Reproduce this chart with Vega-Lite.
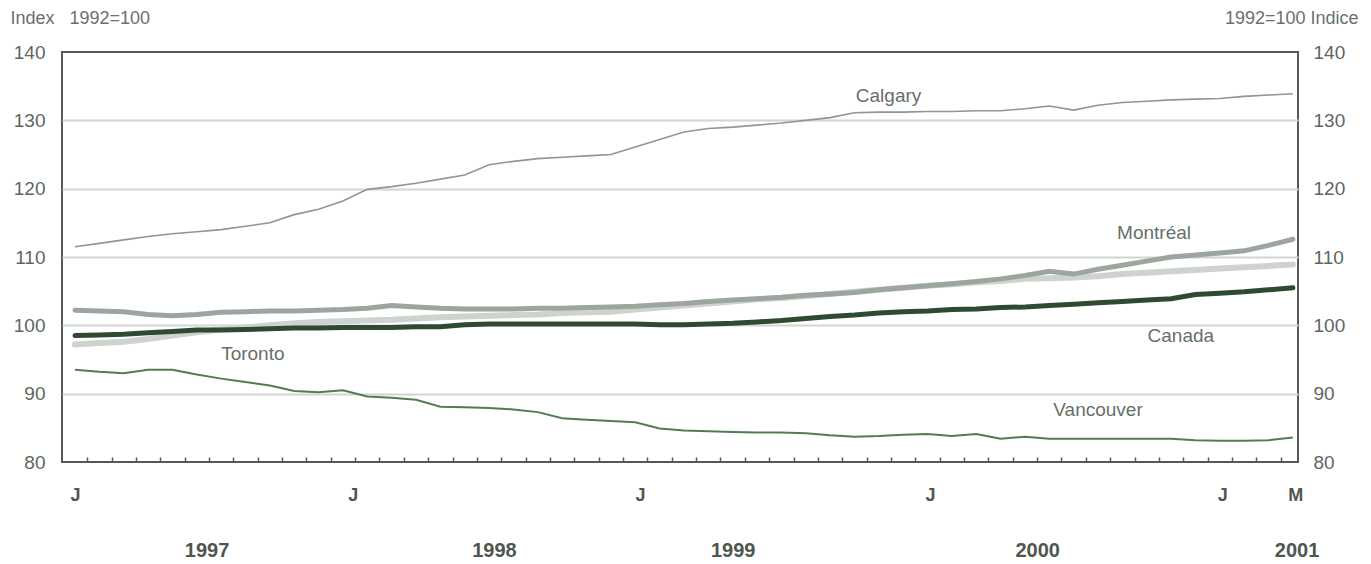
{
  "$schema": "https://vega.github.io/schema/vega-lite/v6.json",
  "width": 1236,
  "height": 410,
  "autosize": {"type": "none"},
  "padding": {"left": 62, "top": 52, "right": 73, "bottom": 102},
  "background": "white",
  "config": {
    "view": {"stroke": "#4f5c4f", "strokeWidth": 2},
    "font": "Liberation Sans",
    "axis": {"labelFont": "Liberation Sans", "titleFont": "Liberation Sans"}
  },
  "datasets": {
    "series": [
      {"m": 0, "Canada": 98.5, "Montreal": 102.2, "Toronto": 97.2, "Calgary": 111.5, "Vancouver": 93.5},
      {"m": 1, "Canada": 98.6, "Montreal": 102.1, "Toronto": 97.4, "Calgary": 112.0, "Vancouver": 93.2},
      {"m": 2, "Canada": 98.7, "Montreal": 102.0, "Toronto": 97.6, "Calgary": 112.5, "Vancouver": 93.0},
      {"m": 3, "Canada": 98.9, "Montreal": 101.6, "Toronto": 98.0, "Calgary": 113.0, "Vancouver": 93.5},
      {"m": 4, "Canada": 99.1, "Montreal": 101.4, "Toronto": 98.5, "Calgary": 113.4, "Vancouver": 93.5},
      {"m": 5, "Canada": 99.3, "Montreal": 101.6, "Toronto": 99.0, "Calgary": 113.7, "Vancouver": 92.8},
      {"m": 6, "Canada": 99.3, "Montreal": 101.9, "Toronto": 99.4, "Calgary": 114.0, "Vancouver": 92.2},
      {"m": 7, "Canada": 99.4, "Montreal": 102.0, "Toronto": 99.7, "Calgary": 114.5, "Vancouver": 91.7},
      {"m": 8, "Canada": 99.5, "Montreal": 102.1, "Toronto": 100.0, "Calgary": 115.0, "Vancouver": 91.2},
      {"m": 9, "Canada": 99.6, "Montreal": 102.1, "Toronto": 100.3, "Calgary": 116.2, "Vancouver": 90.4},
      {"m": 10, "Canada": 99.6, "Montreal": 102.2, "Toronto": 100.5, "Calgary": 117.0, "Vancouver": 90.2},
      {"m": 11, "Canada": 99.7, "Montreal": 102.3, "Toronto": 100.6, "Calgary": 118.2, "Vancouver": 90.5},
      {"m": 12, "Canada": 99.7, "Montreal": 102.5, "Toronto": 100.7, "Calgary": 119.9, "Vancouver": 89.6},
      {"m": 13, "Canada": 99.7, "Montreal": 102.9, "Toronto": 100.8, "Calgary": 120.3, "Vancouver": 89.4},
      {"m": 14, "Canada": 99.8, "Montreal": 102.7, "Toronto": 101.0, "Calgary": 120.8, "Vancouver": 89.1},
      {"m": 15, "Canada": 99.8, "Montreal": 102.5, "Toronto": 101.2, "Calgary": 121.4, "Vancouver": 88.1},
      {"m": 16, "Canada": 100.1, "Montreal": 102.4, "Toronto": 101.3, "Calgary": 122.0, "Vancouver": 88.0},
      {"m": 17, "Canada": 100.2, "Montreal": 102.4, "Toronto": 101.4, "Calgary": 123.5, "Vancouver": 87.9},
      {"m": 18, "Canada": 100.2, "Montreal": 102.4, "Toronto": 101.5, "Calgary": 124.0, "Vancouver": 87.7},
      {"m": 19, "Canada": 100.2, "Montreal": 102.5, "Toronto": 101.6, "Calgary": 124.4, "Vancouver": 87.3},
      {"m": 20, "Canada": 100.2, "Montreal": 102.5, "Toronto": 101.8, "Calgary": 124.6, "Vancouver": 86.4},
      {"m": 21, "Canada": 100.2, "Montreal": 102.6, "Toronto": 101.9, "Calgary": 124.8, "Vancouver": 86.2},
      {"m": 22, "Canada": 100.2, "Montreal": 102.7, "Toronto": 102.0, "Calgary": 125.0, "Vancouver": 86.0},
      {"m": 23, "Canada": 100.2, "Montreal": 102.8, "Toronto": 102.3, "Calgary": 126.1, "Vancouver": 85.8},
      {"m": 24, "Canada": 100.1, "Montreal": 103.0, "Toronto": 102.6, "Calgary": 127.2, "Vancouver": 84.9},
      {"m": 25, "Canada": 100.1, "Montreal": 103.2, "Toronto": 102.9, "Calgary": 128.3, "Vancouver": 84.6},
      {"m": 26, "Canada": 100.2, "Montreal": 103.5, "Toronto": 103.2, "Calgary": 128.8, "Vancouver": 84.5},
      {"m": 27, "Canada": 100.3, "Montreal": 103.7, "Toronto": 103.5, "Calgary": 129.0, "Vancouver": 84.4},
      {"m": 28, "Canada": 100.5, "Montreal": 103.9, "Toronto": 103.8, "Calgary": 129.3, "Vancouver": 84.3},
      {"m": 29, "Canada": 100.7, "Montreal": 104.1, "Toronto": 104.0, "Calgary": 129.6, "Vancouver": 84.3},
      {"m": 30, "Canada": 101.0, "Montreal": 104.4, "Toronto": 104.3, "Calgary": 130.0, "Vancouver": 84.2},
      {"m": 31, "Canada": 101.3, "Montreal": 104.6, "Toronto": 104.6, "Calgary": 130.4, "Vancouver": 83.9},
      {"m": 32, "Canada": 101.5, "Montreal": 104.8, "Toronto": 104.9, "Calgary": 131.1, "Vancouver": 83.7},
      {"m": 33, "Canada": 101.8, "Montreal": 105.2, "Toronto": 105.2, "Calgary": 131.2, "Vancouver": 83.8},
      {"m": 34, "Canada": 102.0, "Montreal": 105.5, "Toronto": 105.5, "Calgary": 131.2, "Vancouver": 84.0},
      {"m": 35, "Canada": 102.1, "Montreal": 105.8, "Toronto": 105.8, "Calgary": 131.3, "Vancouver": 84.1},
      {"m": 36, "Canada": 102.3, "Montreal": 106.1, "Toronto": 106.0, "Calgary": 131.3, "Vancouver": 83.8},
      {"m": 37, "Canada": 102.4, "Montreal": 106.4, "Toronto": 106.3, "Calgary": 131.4, "Vancouver": 84.1},
      {"m": 38, "Canada": 102.6, "Montreal": 106.8, "Toronto": 106.5, "Calgary": 131.4, "Vancouver": 83.4},
      {"m": 39, "Canada": 102.7, "Montreal": 107.3, "Toronto": 106.8, "Calgary": 131.7, "Vancouver": 83.7},
      {"m": 40, "Canada": 102.9, "Montreal": 107.9, "Toronto": 106.9, "Calgary": 132.1, "Vancouver": 83.4},
      {"m": 41, "Canada": 103.1, "Montreal": 107.5, "Toronto": 107.0, "Calgary": 131.5, "Vancouver": 83.4},
      {"m": 42, "Canada": 103.3, "Montreal": 108.2, "Toronto": 107.2, "Calgary": 132.2, "Vancouver": 83.4},
      {"m": 43, "Canada": 103.5, "Montreal": 108.8, "Toronto": 107.5, "Calgary": 132.6, "Vancouver": 83.4},
      {"m": 44, "Canada": 103.7, "Montreal": 109.4, "Toronto": 107.7, "Calgary": 132.8, "Vancouver": 83.4},
      {"m": 45, "Canada": 103.9, "Montreal": 110.0, "Toronto": 107.9, "Calgary": 133.0, "Vancouver": 83.4},
      {"m": 46, "Canada": 104.5, "Montreal": 110.3, "Toronto": 108.1, "Calgary": 133.1, "Vancouver": 83.2},
      {"m": 47, "Canada": 104.7, "Montreal": 110.6, "Toronto": 108.3, "Calgary": 133.2, "Vancouver": 83.1},
      {"m": 48, "Canada": 104.9, "Montreal": 110.9, "Toronto": 108.5, "Calgary": 133.5, "Vancouver": 83.1},
      {"m": 49, "Canada": 105.2, "Montreal": 111.7, "Toronto": 108.7, "Calgary": 133.7, "Vancouver": 83.2},
      {"m": 50, "Canada": 105.5, "Montreal": 112.6, "Toronto": 108.9, "Calgary": 133.9, "Vancouver": 83.6}
    ],
    "labels": [
      {"m": 33.4, "v": 133.6, "label": "Calgary"},
      {"m": 44.3, "v": 113.5, "label": "Montréal"},
      {"m": 45.4, "v": 98.4, "label": "Canada"},
      {"m": 7.3, "v": 95.8, "label": "Toronto"},
      {"m": 42.0, "v": 87.6, "label": "Vancouver"}
    ]
  },
  "data": {"name": "series"},
  "transform": [
    {"fold": ["Canada", "Montreal", "Toronto", "Calgary", "Vancouver"], "as": ["city", "v"]}
  ],
  "layer": [
    {
      "transform": [{"filter": "datum.city === 'Toronto'"}],
      "mark": {"type": "line", "color": "#cfd3cf", "strokeWidth": 6, "strokeCap": "round"},
      "encoding": {
        "x": {
          "field": "m", "type": "quantitative",
          "scale": {"domain": [-0.534, 50.21], "nice": false, "zero": false},
          "axis": {
            "orient": "bottom",
            "values": [0.5,1.5,2.5,3.5,4.5,5.5,6.5,7.5,8.5,9.5,10.5,11.5,12.5,13.5,14.5,15.5,16.5,17.5,18.5,19.5,20.5,21.5,22.5,23.5,24.5,25.5,26.5,27.5,28.5,29.5,30.5,31.5,32.5,33.5,34.5,35.5,36.5,37.5,38.5,39.5,40.5,41.5,42.5,43.5,44.5,45.5,46.5,47.5,48.5,49.5],
            "labels": false, "domain": false, "grid": false,
            "ticks": true, "tickSize": -5, "tickColor": "#4f5c4f", "tickWidth": 1.5,
            "title": null
          }
        },
        "y": {
          "field": "v", "type": "quantitative",
          "scale": {"domain": [80, 140], "nice": false, "zero": false},
          "axis": {
            "orient": "left",
            "values": [80, 90, 100, 110, 120, 130, 140],
            "ticks": false, "domain": false, "grid": false,
            "labelPadding": 17, "labelFontSize": 19, "labelColor": "#5f665f",
            "title": "Index\u00a0\u00a0\u00a01992=100", "titleAngle": 0, "titleAlign": "left",
            "titleBaseline": "middle", "titleX": -52, "titleY": -34,
            "titleFontSize": 18, "titleFontWeight": "normal", "titleColor": "#6a716a"
          }
        }
      }
    },
    {
      "transform": [{"filter": "datum.city === 'Montreal'"}],
      "mark": {"type": "line", "color": "#9da69d", "strokeWidth": 5, "strokeCap": "round"},
      "encoding": {
        "x": {
          "field": "m", "type": "quantitative",
          "axis": {
            "orient": "bottom",
            "values": [0, 11.4, 23.2, 35.1, 47.1, 50.1],
            "labelExpr": "datum.value > 50 ? 'M' : 'J'",
            "ticks": false, "domain": false, "grid": false,
            "labelPadding": 24, "labelFontSize": 18, "labelFontWeight": "bold",
            "labelColor": "#4f564f", "labelOverlap": false, "labelFlush": false, "labelBound": false,
            "title": null
          }
        },
        "y": {
          "field": "v", "type": "quantitative",
          "axis": {
            "orient": "right",
            "values": [80, 90, 100, 110, 120, 130, 140],
            "ticks": false, "domain": false, "grid": false,
            "labelPadding": 15, "labelFontSize": 19, "labelColor": "#5f665f",
            "title": "1992=100\u00a0Indice", "titleAngle": 0, "titleAlign": "right",
            "titleBaseline": "middle", "titleX": 60, "titleY": -34,
            "titleFontSize": 18, "titleFontWeight": "normal", "titleColor": "#6a716a"
          }
        }
      }
    },
    {
      "transform": [{"filter": "datum.city === 'Canada'"}],
      "mark": {"type": "line", "color": "#2f4a31", "strokeWidth": 5, "strokeCap": "round"},
      "encoding": {
        "x": {
          "field": "m", "type": "quantitative",
          "axis": {
            "orient": "bottom",
            "values": [5.4, 17.2, 27.0, 39.5, 50.15],
            "labelExpr": "datum.value < 6 ? '1997' : datum.value < 18 ? '1998' : datum.value < 28 ? '1999' : datum.value < 40 ? '2000' : '2001'",
            "ticks": false, "domain": false, "grid": false,
            "labelPadding": 78, "labelFontSize": 20, "labelFontWeight": "bold",
            "labelColor": "#4f564f", "labelOverlap": false, "labelFlush": false, "labelBound": false,
            "title": null
          }
        },
        "y": {
          "field": "v", "type": "quantitative",
          "axis": {
            "orient": "left",
            "values": [90, 100, 110, 120, 130],
            "labels": false, "ticks": false, "domain": false,
            "grid": true, "gridColor": "#d2d5d2", "gridWidth": 2,
            "title": null
          }
        }
      }
    },
    {
      "transform": [{"filter": "datum.city === 'Calgary'"}],
      "mark": {"type": "line", "color": "#8d998d", "strokeWidth": 1.6},
      "encoding": {
        "x": {"field": "m", "type": "quantitative", "axis": null},
        "y": {"field": "v", "type": "quantitative", "axis": null}
      }
    },
    {
      "transform": [{"filter": "datum.city === 'Vancouver'"}],
      "mark": {"type": "line", "color": "#527c52", "strokeWidth": 2},
      "encoding": {
        "x": {"field": "m", "type": "quantitative", "axis": null},
        "y": {"field": "v", "type": "quantitative", "axis": null}
      }
    },
    {
      "data": {"name": "labels"},
      "transform": [],
      "mark": {"type": "text", "fontSize": 19, "color": "#677067", "align": "center", "baseline": "middle"},
      "encoding": {
        "x": {"field": "m", "type": "quantitative", "axis": null},
        "y": {"field": "v", "type": "quantitative", "axis": null},
        "text": {"field": "label"}
      }
    }
  ],
  "resolve": {"axis": {"x": "independent", "y": "independent"}}
}
